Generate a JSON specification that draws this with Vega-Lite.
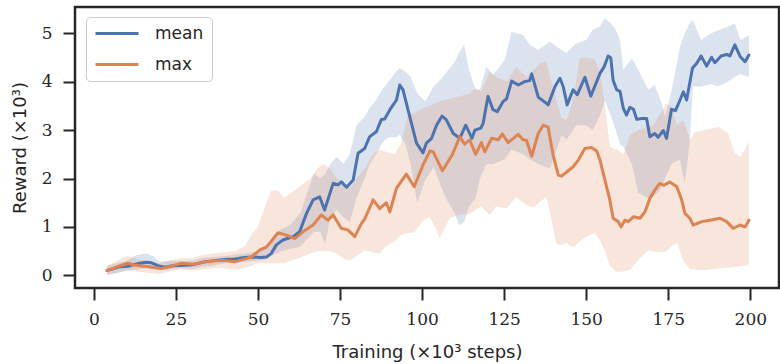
{
  "$schema": "https://vega.github.io/schema/vega-lite/v6.json",
  "width": 704,
  "height": 281,
  "autosize": {"type": "none"},
  "padding": {"left": 75, "top": 7, "right": 1, "bottom": 76},
  "background": "white",
  "config": {
    "view": {"stroke": "#262626", "strokeWidth": 2.5},
    "axis": {
      "domain": false, "grid": false,
      "tickColor": "#262626", "tickWidth": 2, "tickSize": 12,
      "labelFont": "DejaVu Serif", "labelFontSize": 17, "labelColor": "#262626",
      "titleFont": "DejaVu Sans", "titleFontSize": 18, "titleFontWeight": "normal", "titleColor": "#262626"
    },
    "legend": {
      "labelFont": "DejaVu Sans", "labelFontSize": 17, "labelColor": "#262626"
    }
  },
  "datasets": {
    "lines": [
      {"s":"mean","x":4,"y":0.1},{"s":"mean","x":6,"y":0.14},{"s":"mean","x":8,"y":0.18},{"s":"mean","x":10.4,"y":0.19},{"s":"mean","x":12,"y":0.22},{"s":"mean","x":14,"y":0.25},{"s":"mean","x":16,"y":0.27},{"s":"mean","x":17.5,"y":0.26},{"s":"mean","x":19.5,"y":0.2},{"s":"mean","x":21.6,"y":0.17},{"s":"mean","x":24,"y":0.2},{"s":"mean","x":27.6,"y":0.21},{"s":"mean","x":30,"y":0.22},{"s":"mean","x":33.8,"y":0.28},{"s":"mean","x":36,"y":0.3},{"s":"mean","x":39.8,"y":0.33},{"s":"mean","x":43,"y":0.34},{"s":"mean","x":45.9,"y":0.37},{"s":"mean","x":48,"y":0.38},{"s":"mean","x":51,"y":0.37},{"s":"mean","x":52.6,"y":0.38},{"s":"mean","x":54,"y":0.45},{"s":"mean","x":55.6,"y":0.63},{"s":"mean","x":57.6,"y":0.73},{"s":"mean","x":60.7,"y":0.8},{"s":"mean","x":62.7,"y":0.9},{"s":"mean","x":64.8,"y":1.28},{"s":"mean","x":66.8,"y":1.56},{"s":"mean","x":68.8,"y":1.62},{"s":"mean","x":70.3,"y":1.35},{"s":"mean","x":72.9,"y":1.9},{"s":"mean","x":74.4,"y":1.87},{"s":"mean","x":75.4,"y":1.93},{"s":"mean","x":77,"y":1.82},{"s":"mean","x":79,"y":1.97},{"s":"mean","x":80.5,"y":2.52},{"s":"mean","x":82.5,"y":2.62},{"s":"mean","x":84,"y":2.86},{"s":"mean","x":86.1,"y":2.97},{"s":"mean","x":87.6,"y":3.22},{"s":"mean","x":88.6,"y":3.23},{"s":"mean","x":90.2,"y":3.42},{"s":"mean","x":92.2,"y":3.62},{"s":"mean","x":93.2,"y":3.93},{"s":"mean","x":94.2,"y":3.83},{"s":"mean","x":95.7,"y":3.42},{"s":"mean","x":97.3,"y":3.0},{"s":"mean","x":98.3,"y":2.73},{"s":"mean","x":100.3,"y":2.53},{"s":"mean","x":101.3,"y":2.73},{"s":"mean","x":102.9,"y":2.83},{"s":"mean","x":104.4,"y":3.1},{"s":"mean","x":106.1,"y":3.29},{"s":"mean","x":107.4,"y":3.21},{"s":"mean","x":109.5,"y":2.93},{"s":"mean","x":111.5,"y":2.83},{"s":"mean","x":113.3,"y":3.1},{"s":"mean","x":115.2,"y":2.83},{"s":"mean","x":116.1,"y":3.0},{"s":"mean","x":117.9,"y":3.04},{"s":"mean","x":118.6,"y":3.14},{"s":"mean","x":120.1,"y":3.7},{"s":"mean","x":121.6,"y":3.42},{"s":"mean","x":122.9,"y":3.38},{"s":"mean","x":124.7,"y":3.59},{"s":"mean","x":125.7,"y":3.64},{"s":"mean","x":127.3,"y":4.01},{"s":"mean","x":129.3,"y":3.93},{"s":"mean","x":131.3,"y":4.0},{"s":"mean","x":132.8,"y":4.02},{"s":"mean","x":133.4,"y":4.16},{"s":"mean","x":135.4,"y":3.68},{"s":"mean","x":137.9,"y":3.55},{"s":"mean","x":138.4,"y":3.52},{"s":"mean","x":140.5,"y":3.9},{"s":"mean","x":142,"y":4.07},{"s":"mean","x":143,"y":3.9},{"s":"mean","x":144.2,"y":3.52},{"s":"mean","x":146,"y":3.83},{"s":"mean","x":147.3,"y":3.73},{"s":"mean","x":149.6,"y":4.09},{"s":"mean","x":151.4,"y":3.7},{"s":"mean","x":153.2,"y":4.0},{"s":"mean","x":154.2,"y":4.17},{"s":"mean","x":155.5,"y":4.31},{"s":"mean","x":156.7,"y":4.53},{"s":"mean","x":157.5,"y":4.49},{"s":"mean","x":158.2,"y":4.03},{"s":"mean","x":159.3,"y":3.83},{"s":"mean","x":160.3,"y":3.8},{"s":"mean","x":161.3,"y":3.45},{"s":"mean","x":162.3,"y":3.31},{"s":"mean","x":163.3,"y":3.47},{"s":"mean","x":164.4,"y":3.43},{"s":"mean","x":165.4,"y":3.22},{"s":"mean","x":166.9,"y":3.24},{"s":"mean","x":168.4,"y":3.24},{"s":"mean","x":169.4,"y":2.86},{"s":"mean","x":170.9,"y":2.93},{"s":"mean","x":171.9,"y":2.85},{"s":"mean","x":173.5,"y":2.99},{"s":"mean","x":174.5,"y":2.83},{"s":"mean","x":176,"y":3.43},{"s":"mean","x":177.2,"y":3.4},{"s":"mean","x":178.6,"y":3.62},{"s":"mean","x":179.6,"y":3.79},{"s":"mean","x":180.6,"y":3.62},{"s":"mean","x":182.4,"y":4.28},{"s":"mean","x":183.7,"y":4.38},{"s":"mean","x":185,"y":4.53},{"s":"mean","x":186.7,"y":4.32},{"s":"mean","x":188.2,"y":4.5},{"s":"mean","x":189.2,"y":4.39},{"s":"mean","x":191.1,"y":4.53},{"s":"mean","x":192.8,"y":4.56},{"s":"mean","x":193.8,"y":4.53},{"s":"mean","x":195.3,"y":4.76},{"s":"mean","x":196.9,"y":4.52},{"s":"mean","x":198.4,"y":4.41},{"s":"mean","x":199.6,"y":4.55},
      {"s":"max","x":4,"y":0.1},{"s":"max","x":6,"y":0.15},{"s":"max","x":8,"y":0.2},{"s":"max","x":10.4,"y":0.25},{"s":"max","x":12,"y":0.22},{"s":"max","x":14,"y":0.2},{"s":"max","x":15.5,"y":0.19},{"s":"max","x":18,"y":0.17},{"s":"max","x":20.5,"y":0.14},{"s":"max","x":23,"y":0.18},{"s":"max","x":26.6,"y":0.25},{"s":"max","x":30.7,"y":0.23},{"s":"max","x":33,"y":0.27},{"s":"max","x":36.8,"y":0.3},{"s":"max","x":40,"y":0.31},{"s":"max","x":42.9,"y":0.28},{"s":"max","x":45,"y":0.32},{"s":"max","x":48,"y":0.38},{"s":"max","x":50.5,"y":0.52},{"s":"max","x":52.6,"y":0.59},{"s":"max","x":54,"y":0.7},{"s":"max","x":56.1,"y":0.88},{"s":"max","x":58.7,"y":0.83},{"s":"max","x":61.2,"y":0.76},{"s":"max","x":63.7,"y":0.9},{"s":"max","x":66.8,"y":1.04},{"s":"max","x":69.3,"y":1.25},{"s":"max","x":71.3,"y":1.14},{"s":"max","x":72.9,"y":1.25},{"s":"max","x":75.4,"y":0.97},{"s":"max","x":77.4,"y":0.94},{"s":"max","x":79.5,"y":0.8},{"s":"max","x":81.5,"y":1.07},{"s":"max","x":82.5,"y":1.16},{"s":"max","x":85.1,"y":1.56},{"s":"max","x":87.1,"y":1.38},{"s":"max","x":89.1,"y":1.5},{"s":"max","x":90.2,"y":1.31},{"s":"max","x":92.2,"y":1.8},{"s":"max","x":95.2,"y":2.09},{"s":"max","x":97.6,"y":1.83},{"s":"max","x":100.3,"y":2.28},{"s":"max","x":102.4,"y":2.57},{"s":"max","x":103.4,"y":2.55},{"s":"max","x":106.2,"y":2.16},{"s":"max","x":109.2,"y":2.49},{"s":"max","x":111.5,"y":2.86},{"s":"max","x":113,"y":2.71},{"s":"max","x":114.5,"y":2.8},{"s":"max","x":116.3,"y":2.5},{"s":"max","x":118.1,"y":2.74},{"s":"max","x":119.1,"y":2.55},{"s":"max","x":121.2,"y":2.83},{"s":"max","x":123.2,"y":2.8},{"s":"max","x":124.5,"y":2.92},{"s":"max","x":126.2,"y":2.74},{"s":"max","x":129.3,"y":2.91},{"s":"max","x":130.8,"y":2.8},{"s":"max","x":131.8,"y":2.79},{"s":"max","x":133.4,"y":2.46},{"s":"max","x":135.4,"y":2.93},{"s":"max","x":136.9,"y":3.1},{"s":"max","x":138.4,"y":3.06},{"s":"max","x":139.9,"y":2.49},{"s":"max","x":141.5,"y":2.07},{"s":"max","x":142.5,"y":2.05},{"s":"max","x":144.5,"y":2.16},{"s":"max","x":146,"y":2.24},{"s":"max","x":147.6,"y":2.38},{"s":"max","x":149.6,"y":2.62},{"s":"max","x":151.6,"y":2.64},{"s":"max","x":153.2,"y":2.57},{"s":"max","x":154.2,"y":2.38},{"s":"max","x":155.7,"y":1.97},{"s":"max","x":157.2,"y":1.56},{"s":"max","x":158.2,"y":1.18},{"s":"max","x":159.8,"y":1.11},{"s":"max","x":160.6,"y":1.0},{"s":"max","x":161.8,"y":1.14},{"s":"max","x":162.8,"y":1.11},{"s":"max","x":164.4,"y":1.21},{"s":"max","x":166.4,"y":1.18},{"s":"max","x":167.9,"y":1.31},{"s":"max","x":169.4,"y":1.59},{"s":"max","x":170.9,"y":1.76},{"s":"max","x":172.4,"y":1.9},{"s":"max","x":173.7,"y":1.86},{"s":"max","x":175.5,"y":1.93},{"s":"max","x":177.6,"y":1.83},{"s":"max","x":179.1,"y":1.56},{"s":"max","x":180.1,"y":1.28},{"s":"max","x":181.6,"y":1.18},{"s":"max","x":182.6,"y":1.04},{"s":"max","x":185.2,"y":1.11},{"s":"max","x":187.7,"y":1.14},{"s":"max","x":190.8,"y":1.18},{"s":"max","x":192.8,"y":1.11},{"s":"max","x":194.8,"y":0.97},{"s":"max","x":196.9,"y":1.04},{"s":"max","x":198.4,"y":1.0},{"s":"max","x":199.6,"y":1.14}
    ],
    "bands": [
      {"s":"mean","x":4,"lo":0.02,"hi":0.2},{"s":"mean","x":7,"lo":0.05,"hi":0.25},{"s":"mean","x":10,"lo":0.1,"hi":0.3},{"s":"mean","x":13,"lo":0.12,"hi":0.42},{"s":"mean","x":16,"lo":0.15,"hi":0.45},{"s":"mean","x":18,"lo":0.12,"hi":0.4},{"s":"mean","x":20,"lo":0.1,"hi":0.28},{"s":"mean","x":23,"lo":0.12,"hi":0.3},{"s":"mean","x":26,"lo":0.15,"hi":0.3},{"s":"mean","x":30,"lo":0.13,"hi":0.3},{"s":"mean","x":33,"lo":0.18,"hi":0.36},{"s":"mean","x":36,"lo":0.2,"hi":0.38},{"s":"mean","x":40,"lo":0.25,"hi":0.4},{"s":"mean","x":43,"lo":0.26,"hi":0.43},{"s":"mean","x":46,"lo":0.28,"hi":0.45},{"s":"mean","x":50,"lo":0.3,"hi":0.5},{"s":"mean","x":52,"lo":0.32,"hi":0.55},{"s":"mean","x":54,"lo":0.4,"hi":0.75},{"s":"mean","x":57,"lo":0.5,"hi":0.95},{"s":"mean","x":60,"lo":0.55,"hi":1.05},{"s":"mean","x":63,"lo":0.6,"hi":1.3},{"s":"mean","x":65,"lo":0.75,"hi":1.7},{"s":"mean","x":67,"lo":0.9,"hi":2.1},{"s":"mean","x":69,"lo":0.9,"hi":2.0},{"s":"mean","x":70.5,"lo":0.65,"hi":2.1},{"s":"mean","x":72,"lo":1.2,"hi":2.3},{"s":"mean","x":74,"lo":1.35,"hi":2.45},{"s":"mean","x":76,"lo":1.2,"hi":2.3},{"s":"mean","x":78,"lo":1.1,"hi":2.5},{"s":"mean","x":80,"lo":1.6,"hi":3.1},{"s":"mean","x":82.5,"lo":2.0,"hi":3.28},{"s":"mean","x":84,"lo":2.3,"hi":3.45},{"s":"mean","x":86,"lo":2.5,"hi":3.62},{"s":"mean","x":88,"lo":2.75,"hi":3.85},{"s":"mean","x":90,"lo":2.85,"hi":4.02},{"s":"mean","x":92,"lo":2.85,"hi":4.2},{"s":"mean","x":93.2,"lo":2.9,"hi":4.28},{"s":"mean","x":95,"lo":2.7,"hi":4.2},{"s":"mean","x":96.5,"lo":2.3,"hi":4.1},{"s":"mean","x":98.5,"lo":1.5,"hi":3.76},{"s":"mean","x":101,"lo":1.97,"hi":3.59},{"s":"mean","x":103.5,"lo":2.24,"hi":3.9},{"s":"mean","x":106,"lo":1.8,"hi":4.07},{"s":"mean","x":107.5,"lo":1.56,"hi":4.2},{"s":"mean","x":110,"lo":1.28,"hi":4.41},{"s":"mean","x":111.3,"lo":1.03,"hi":4.6},{"s":"mean","x":112.8,"lo":1.1,"hi":4.76},{"s":"mean","x":114.3,"lo":1.42,"hi":4.24},{"s":"mean","x":116.3,"lo":1.6,"hi":3.83},{"s":"mean","x":117.6,"lo":2.0,"hi":3.83},{"s":"mean","x":119.6,"lo":2.3,"hi":4.31},{"s":"mean","x":121.6,"lo":2.3,"hi":4.14},{"s":"mean","x":123.5,"lo":2.35,"hi":4.3},{"s":"mean","x":125.2,"lo":2.4,"hi":4.45},{"s":"mean","x":127.3,"lo":2.6,"hi":5.03},{"s":"mean","x":130.8,"lo":2.5,"hi":4.96},{"s":"mean","x":132.8,"lo":2.4,"hi":4.76},{"s":"mean","x":135.4,"lo":2.3,"hi":4.65},{"s":"mean","x":138.9,"lo":2.2,"hi":4.83},{"s":"mean","x":141,"lo":2.6,"hi":4.72},{"s":"mean","x":142.5,"lo":2.9,"hi":4.65},{"s":"mean","x":144,"lo":2.8,"hi":4.59},{"s":"mean","x":147,"lo":3.1,"hi":4.79},{"s":"mean","x":150,"lo":3.1,"hi":4.86},{"s":"mean","x":152,"lo":3.0,"hi":5.07},{"s":"mean","x":154.2,"lo":3.3,"hi":5.14},{"s":"mean","x":155.7,"lo":3.6,"hi":5.31},{"s":"mean","x":157.5,"lo":3.3,"hi":5.2},{"s":"mean","x":159,"lo":3.0,"hi":5.07},{"s":"mean","x":160.3,"lo":2.7,"hi":4.86},{"s":"mean","x":161.3,"lo":2.66,"hi":4.24},{"s":"mean","x":163.9,"lo":2.3,"hi":4.48},{"s":"mean","x":165.9,"lo":1.7,"hi":4.24},{"s":"mean","x":168.9,"lo":1.6,"hi":3.83},{"s":"mean","x":170.9,"lo":1.65,"hi":3.93},{"s":"mean","x":173,"lo":1.8,"hi":3.55},{"s":"mean","x":174,"lo":2.0,"hi":3.28},{"s":"mean","x":176,"lo":2.3,"hi":3.8},{"s":"mean","x":178.6,"lo":2.4,"hi":4.72},{"s":"mean","x":180,"lo":1.9,"hi":5.0},{"s":"mean","x":181.5,"lo":2.7,"hi":5.2},{"s":"mean","x":182.5,"lo":3.9,"hi":5.27},{"s":"mean","x":185,"lo":3.9,"hi":4.86},{"s":"mean","x":188,"lo":3.95,"hi":5.0},{"s":"mean","x":190,"lo":3.9,"hi":5.05},{"s":"mean","x":193.3,"lo":4.0,"hi":5.14},{"s":"mean","x":195.3,"lo":4.1,"hi":5.2},{"s":"mean","x":197,"lo":4.15,"hi":4.86},{"s":"mean","x":199.6,"lo":4.1,"hi":4.96},
      {"s":"max","x":4,"lo":0.0,"hi":0.2},{"s":"max","x":7,"lo":0.05,"hi":0.3},{"s":"max","x":10,"lo":0.1,"hi":0.4},{"s":"max","x":13,"lo":0.08,"hi":0.35},{"s":"max","x":16,"lo":0.06,"hi":0.3},{"s":"max","x":20,"lo":0.03,"hi":0.25},{"s":"max","x":23,"lo":0.08,"hi":0.3},{"s":"max","x":26,"lo":0.12,"hi":0.35},{"s":"max","x":30,"lo":0.1,"hi":0.36},{"s":"max","x":33,"lo":0.12,"hi":0.42},{"s":"max","x":36,"lo":0.15,"hi":0.45},{"s":"max","x":40,"lo":0.15,"hi":0.48},{"s":"max","x":43,"lo":0.12,"hi":0.5},{"s":"max","x":46,"lo":0.15,"hi":0.6},{"s":"max","x":48,"lo":0.2,"hi":0.85},{"s":"max","x":50,"lo":0.25,"hi":1.0},{"s":"max","x":52,"lo":0.25,"hi":1.4},{"s":"max","x":54,"lo":0.25,"hi":1.75},{"s":"max","x":56,"lo":0.25,"hi":1.75},{"s":"max","x":58,"lo":0.25,"hi":1.6},{"s":"max","x":60,"lo":0.3,"hi":1.7},{"s":"max","x":62,"lo":0.35,"hi":1.8},{"s":"max","x":64,"lo":0.4,"hi":1.9},{"s":"max","x":66,"lo":0.45,"hi":2.0},{"s":"max","x":68,"lo":0.5,"hi":2.2},{"s":"max","x":70,"lo":0.5,"hi":2.3},{"s":"max","x":72,"lo":0.5,"hi":2.2},{"s":"max","x":74,"lo":0.45,"hi":2.0},{"s":"max","x":76,"lo":0.35,"hi":1.9},{"s":"max","x":78,"lo":0.3,"hi":1.8},{"s":"max","x":80,"lo":0.4,"hi":2.0},{"s":"max","x":82.5,"lo":0.52,"hi":2.2},{"s":"max","x":85,"lo":0.48,"hi":2.5},{"s":"max","x":87,"lo":0.45,"hi":2.6},{"s":"max","x":89,"lo":0.6,"hi":2.55},{"s":"max","x":91.6,"lo":0.7,"hi":2.5},{"s":"max","x":93.5,"lo":0.83,"hi":2.7},{"s":"max","x":95.5,"lo":0.87,"hi":3.28},{"s":"max","x":97.7,"lo":0.89,"hi":3.35},{"s":"max","x":100.3,"lo":1.14,"hi":3.45},{"s":"max","x":102.3,"lo":1.2,"hi":3.5},{"s":"max","x":104,"lo":1.0,"hi":3.55},{"s":"max","x":105.3,"lo":0.76,"hi":3.6},{"s":"max","x":108.4,"lo":1.18,"hi":3.65},{"s":"max","x":111.5,"lo":1.25,"hi":3.7},{"s":"max","x":114.5,"lo":1.27,"hi":3.75},{"s":"max","x":116.3,"lo":1.35,"hi":3.87},{"s":"max","x":118,"lo":1.42,"hi":3.8},{"s":"max","x":120.6,"lo":1.24,"hi":4.2},{"s":"max","x":122.5,"lo":1.42,"hi":4.1},{"s":"max","x":125.7,"lo":1.38,"hi":4.0},{"s":"max","x":128.7,"lo":1.62,"hi":4.3},{"s":"max","x":131.8,"lo":1.45,"hi":4.1},{"s":"max","x":134,"lo":1.4,"hi":4.24},{"s":"max","x":135.9,"lo":1.52,"hi":4.38},{"s":"max","x":137.9,"lo":1.62,"hi":4.41},{"s":"max","x":139.4,"lo":1.14,"hi":4.0},{"s":"max","x":141,"lo":0.65,"hi":3.6},{"s":"max","x":142.5,"lo":0.62,"hi":3.25},{"s":"max","x":144,"lo":0.68,"hi":3.21},{"s":"max","x":145.1,"lo":0.6,"hi":3.4},{"s":"max","x":146.5,"lo":0.59,"hi":3.8},{"s":"max","x":148,"lo":0.7,"hi":4.48},{"s":"max","x":150.1,"lo":0.8,"hi":4.5},{"s":"max","x":152.6,"lo":0.87,"hi":4.45},{"s":"max","x":154.2,"lo":0.73,"hi":4.2},{"s":"max","x":155.7,"lo":0.5,"hi":3.5},{"s":"max","x":157.2,"lo":0.2,"hi":2.65},{"s":"max","x":159.3,"lo":0.07,"hi":2.6},{"s":"max","x":161.3,"lo":0.08,"hi":2.5},{"s":"max","x":163.4,"lo":0.12,"hi":2.9},{"s":"max","x":165.9,"lo":0.32,"hi":3.0},{"s":"max","x":168.9,"lo":0.52,"hi":3.07},{"s":"max","x":170.5,"lo":0.5,"hi":3.1},{"s":"max","x":172,"lo":0.48,"hi":3.28},{"s":"max","x":174.5,"lo":0.5,"hi":3.55},{"s":"max","x":176,"lo":0.6,"hi":3.48},{"s":"max","x":177.6,"lo":0.68,"hi":3.1},{"s":"max","x":179.6,"lo":0.3,"hi":3.2},{"s":"max","x":181.7,"lo":0.12,"hi":2.8},{"s":"max","x":183,"lo":0.12,"hi":2.95},{"s":"max","x":186.2,"lo":0.11,"hi":3.0},{"s":"max","x":190.3,"lo":0.14,"hi":3.07},{"s":"max","x":193.3,"lo":0.16,"hi":2.93},{"s":"max","x":195.3,"lo":0.18,"hi":2.52},{"s":"max","x":197,"lo":0.19,"hi":2.45},{"s":"max","x":199.6,"lo":0.21,"hi":2.76}
    ]
  },
  "layer": [
    {
      "data": {"name": "bands"},
      "mark": {"type": "area", "opacity": 0.2, "interpolate": "linear"},
      "encoding": {
        "x": {"field": "x", "type": "quantitative", "scale": {"domain": [-5.75, 208.75], "nice": false, "zero": false},
              "axis": {"values": [0,25,50,75,100,125,150,175,200], "tickSize": 12, "labelPadding": 11, "titlePadding": 16, "title": "Training (×10³ steps)"}},
        "y": {"field": "hi", "type": "quantitative", "scale": {"domain": [-0.26, 5.54], "nice": false, "zero": false},
              "axis": {"values": [0,1,2,3,4,5], "tickSize": 12, "labelPadding": 11, "titlePadding": 12, "title": "Reward (×10³)"}},
        "y2": {"field": "lo"},
        "fill": {"field": "s", "type": "nominal", "scale": {"domain": ["max","mean"], "range": ["#DD8452","#4C72B0"]}, "legend": null}
      }
    },
    {
      "data": {"name": "lines"},
      "mark": {"type": "line", "strokeWidth": 3, "strokeJoin": "round", "strokeCap": "round"},
      "encoding": {
        "x": {"field": "x", "type": "quantitative"},
        "y": {"field": "y", "type": "quantitative"},
        "color": {"field": "s", "type": "nominal", "scale": {"domain": ["mean","max"], "range": ["#4C72B0","#DD8452"]},
          "legend": {"title": null, "orient": "none", "legendX": 11, "legendY": 10,
                     "symbolType": "M-1,0H5.14", "symbolSize": 196, "symbolStrokeWidth": 3,
                     "labelOffset": 44, "padding": 8, "rowPadding": 13,
                     "fillColor": "rgba(255,255,255,0.8)", "strokeColor": "#cccccc", "cornerRadius": 4}}
      }
    }
  ]
}
